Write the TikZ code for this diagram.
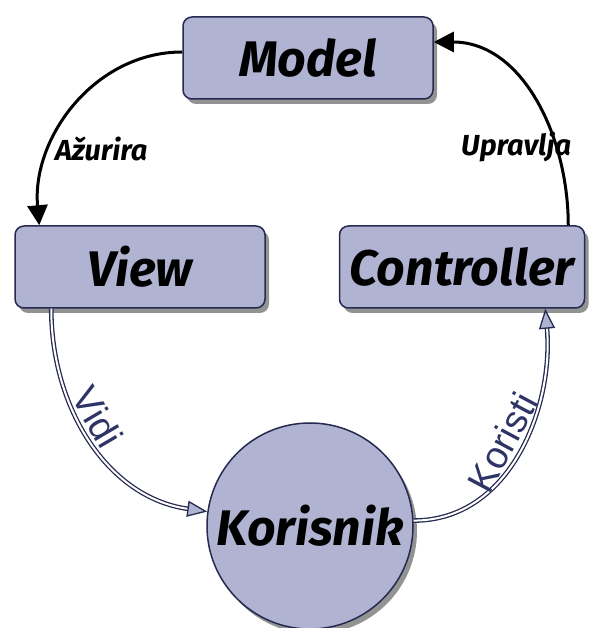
\documentclass[tikz,border=0pt]{standalone}
\usepackage{fontspec}
\setmainfont{Fira Sans}
\newfontfamily\labelfont{Liberation Sans}
\usetikzlibrary{arrows.meta,shadows}
\definecolor{boxfill}{HTML}{B0B4D2}
\definecolor{boxedge}{HTML}{262A50}
\definecolor{labeltext}{HTML}{2E3466}
\begin{document}
\begin{tikzpicture}[x=1pt,y=1pt,
  box/.style={draw=boxedge, line width=1.5pt, fill=boxfill, rounded corners=9pt,
    minimum height=82pt, inner sep=0pt,
    font=\bfseries\itshape\fontsize{50}{60}\selectfont,
    drop shadow={shadow xshift=4pt, shadow yshift=-5pt, opacity=0.85}},
  user/.style={box, circle, minimum size=206pt},
  solidarrow/.style={line width=3pt, -{Triangle[length=20pt,width=20pt]}},
  hollowarrow/.style={draw=boxedge, line width=1.3pt, double=white, double distance=2pt,
    -{Triangle[length=20pt,width=16pt,fill=boxfill]}},
  boldlabel/.style={font=\bfseries\itshape\fontsize{29}{32}\selectfont},
  thinlabel/.style={font=\labelfont\fontsize{38}{40}\selectfont, text=labeltext, inner sep=4pt}]
\useasboundingbox (0,0) rectangle (590,628);

%blokovi
\node[box, minimum width=250pt] (model) at (308,570) {Model};
\node[box, minimum width=250pt] (view) at (140,361) {View};
\node[box, minimum width=245pt] (controller) at (462,361) {Controller};
\node[user] (korisnik) at (310,102) {Korisnik};

%gornje strelice
\draw[solidarrow] ([yshift=6pt]model.west) to[out=180,in=95]
  node[pos=0.7, anchor=west, boldlabel, xshift=0pt] {Ažurira} ([xshift=25pt]view.north west);
\draw[solidarrow] ([xshift=-17pt]controller.north east) to[out=90,in=0]
  node[pos=0.3, anchor=east, boldlabel, xshift=20pt] {Upravlja} ([yshift=16pt]model.east);

%donje strelice
\draw[hollowarrow] ([xshift=37pt]view.south west) to[out=-90,in=172]
  node[pos=0.43, sloped, above, thinlabel] {Vidi} (korisnik.172);
\draw[hollowarrow] (korisnik.3) to[out=0,in=-85]
  node[pos=0.5, sloped, above, thinlabel] {Koristi} ([xshift=-40pt]controller.south east);
\end{tikzpicture}
\end{document}
